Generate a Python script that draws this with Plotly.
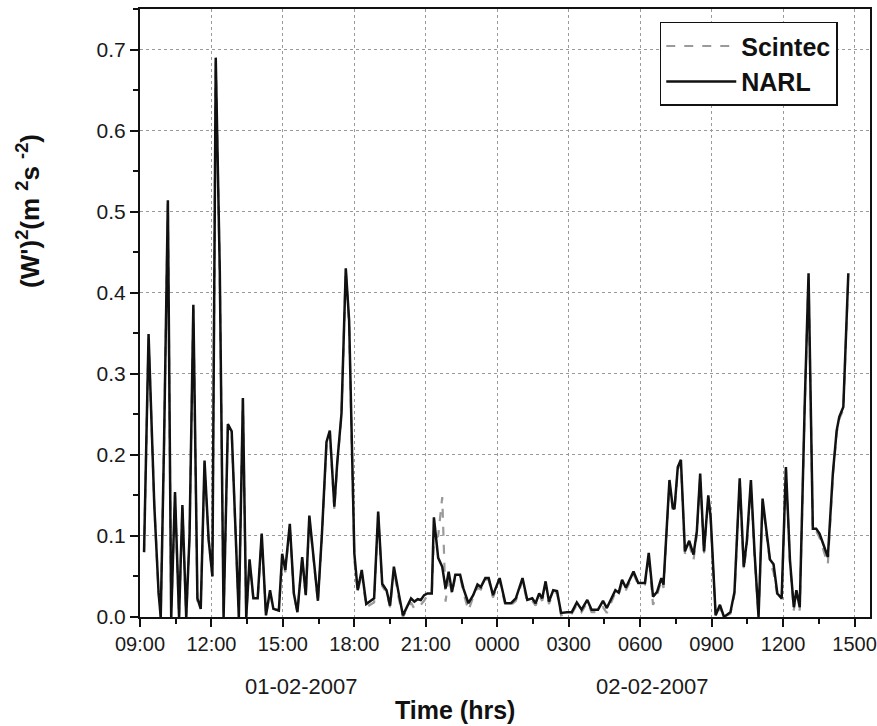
import plotly.graph_objects as go

# Time in decimal hours since 00:00 of 01-02-2007
time_h = [9.17, 9.36, 9.60, 9.78, 9.87, 10.01, 10.17, 10.31, 10.47, 10.64, 10.78, 10.94, 11.08, 11.24, 11.41,
          11.55, 11.71, 11.88, 12.04, 12.18, 12.35, 12.51, 12.69, 12.85, 13.15, 13.32, 13.46, 13.60, 13.76, 13.94,
          14.11, 14.29, 14.46, 14.60, 14.83, 14.97, 15.10, 15.29, 15.46, 15.61, 15.81, 15.96, 16.11, 16.28, 16.47,
          16.64, 16.83, 16.97, 17.16, 17.28, 17.46, 17.64, 17.78, 18.00, 18.14, 18.31, 18.50, 18.83, 19.00, 19.17,
          19.35, 19.50, 19.66, 19.85, 20.04, 20.38, 20.52, 20.66, 20.79, 20.93, 21.07, 21.25, 21.34, 21.52, 21.69,
          21.83, 21.96, 22.10, 22.24, 22.44, 22.58, 22.79, 22.99, 23.17, 23.31, 23.50, 23.64, 23.82, 24.10, 24.34,
          24.58, 24.78, 25.06, 25.26, 25.47, 25.61, 25.76, 25.89, 26.03, 26.17, 26.35, 26.51, 26.68, 26.93, 27.13,
          27.34, 27.54, 27.78, 27.96, 28.23, 28.44, 28.60, 28.78, 28.96, 29.10, 29.24, 29.40, 29.54, 29.72, 29.92,
          30.20, 30.36, 30.54, 30.71, 30.89, 30.98, 31.23, 31.37, 31.44, 31.58, 31.71, 31.88, 32.06, 32.24, 32.38,
          32.52, 32.68, 32.86, 32.96, 33.17, 33.35, 33.52, 33.79, 33.96, 34.18, 34.35, 34.48, 34.65, 34.80, 34.97,
          35.14, 35.32, 35.45, 35.60, 35.76, 35.94, 36.12, 36.29, 36.45, 36.56, 36.70, 36.91, 37.07, 37.25, 37.39,
          37.53, 37.88, 38.09, 38.25, 38.36, 38.53, 38.74]

narl = [0.080, 0.349, 0.138, 0.030, 0.000, 0.215, 0.514, 0.000, 0.154, 0.000, 0.138, 0.000, 0.100, 0.385, 0.023,
        0.010, 0.193, 0.096, 0.050, 0.690, 0.427, 0.000, 0.238, 0.229, 0.000, 0.270, 0.000, 0.071, 0.023, 0.023,
        0.103, 0.002, 0.033, 0.010, 0.008, 0.078, 0.058, 0.115, 0.029, 0.006, 0.074, 0.027, 0.125, 0.078, 0.020,
        0.103, 0.216, 0.230, 0.136, 0.190, 0.251, 0.430, 0.366, 0.078, 0.033, 0.058, 0.016, 0.023, 0.130, 0.041,
        0.033, 0.014, 0.062, 0.031, 0.002, 0.023, 0.019, 0.022, 0.021, 0.027, 0.029, 0.029, 0.123, 0.073, 0.062,
        0.035, 0.056, 0.031, 0.052, 0.052, 0.035, 0.017, 0.027, 0.040, 0.037, 0.048, 0.048, 0.027, 0.048, 0.017,
        0.017, 0.023, 0.048, 0.021, 0.023, 0.017, 0.029, 0.023, 0.044, 0.019, 0.033, 0.032, 0.005, 0.006, 0.006,
        0.018, 0.009, 0.021, 0.009, 0.009, 0.020, 0.011, 0.023, 0.033, 0.030, 0.046, 0.036, 0.044, 0.056, 0.042,
        0.042, 0.079, 0.025, 0.031, 0.048, 0.040, 0.169, 0.135, 0.133, 0.185, 0.194, 0.081, 0.094, 0.077, 0.106,
        0.177, 0.081, 0.150, 0.123, 0.002, 0.015, 0.000, 0.006, 0.031, 0.171, 0.062, 0.094, 0.169, 0.081, 0.000,
        0.146, 0.102, 0.071, 0.065, 0.029, 0.023, 0.185, 0.070, 0.012, 0.033, 0.012, 0.263, 0.424, 0.109, 0.109,
        0.103, 0.074, 0.177, 0.230, 0.247, 0.259, 0.424]

scintec = [0.080, 0.345, 0.138, 0.030, 0.000, 0.215, 0.510, 0.000, 0.150, 0.000, 0.135, 0.000, 0.100, 0.380, 0.020,
           0.010, 0.190, 0.096, 0.050, 0.685, 0.425, 0.000, 0.235, 0.226, 0.000, 0.268, 0.000, 0.070, 0.022, 0.022,
           0.100, 0.002, 0.030, 0.010, 0.008, 0.075, 0.055, 0.112, 0.027, 0.006, 0.072, 0.025, 0.122, 0.075, 0.018,
           0.100, 0.214, 0.228, 0.133, 0.188, 0.249, 0.428, 0.362, 0.070, 0.030, 0.055, 0.012, 0.018, 0.126, 0.038,
           0.030, 0.012, 0.058, 0.025, 0.000, 0.018, 0.010, 0.012, 0.015, 0.020, 0.027, 0.030, 0.095, 0.100, 0.148,
           0.019, 0.050, 0.028, 0.050, 0.050, 0.030, 0.008, 0.025, 0.036, 0.034, 0.046, 0.046, 0.024, 0.045, 0.014,
           0.015, 0.020, 0.045, 0.018, 0.020, 0.014, 0.026, 0.020, 0.040, 0.016, 0.030, 0.030, 0.002, 0.004, 0.004,
           0.015, 0.006, 0.018, 0.006, 0.006, 0.012, 0.005, 0.018, 0.030, 0.027, 0.042, 0.033, 0.041, 0.053, 0.040,
           0.040, 0.075, 0.015, 0.027, 0.045, 0.036, 0.165, 0.132, 0.130, 0.182, 0.190, 0.078, 0.090, 0.070, 0.102,
           0.174, 0.078, 0.146, 0.120, 0.000, 0.012, 0.000, 0.004, 0.028, 0.168, 0.058, 0.090, 0.165, 0.075, 0.000,
           0.142, 0.098, 0.068, 0.055, 0.026, 0.020, 0.182, 0.066, 0.008, 0.030, 0.008, 0.260, 0.420, 0.106, 0.106,
           0.098, 0.065, 0.174, 0.227, 0.244, 0.256, 0.420]

x_tick_vals = [9, 12, 15, 18, 21, 24, 27, 30, 33, 36, 39]
x_tick_text = ["09:00", "12:00", "15:00", "18:00", "21:00", "0000", "0300", "0600", "0900", "1200", "1500"]
y_tick_vals = [0.0, 0.1, 0.2, 0.3, 0.4, 0.5, 0.6, 0.7]
y_tick_text = ["0.0", "0.1", "0.2", "0.3", "0.4", "0.5", "0.6", "0.7"]
date_labels = ["01-02-2007", "02-02-2007"]
date_label_pos = [15.80, 30.50]

FONT = "Liberation Sans, Arial, sans-serif"

fig = go.Figure()
fig.add_trace(go.Scatter(x=time_h, y=scintec, mode="lines", name="Scintec",
                         line=dict(color="#9a9a9a", width=2.2, dash="dash")))
fig.add_trace(go.Scatter(x=time_h, y=narl, mode="lines", name="NARL",
                         line=dict(color="#111111", width=2.5)))

for lbl, pos in zip(date_labels, date_label_pos):
    fig.add_annotation(x=pos, xref="x", y=-0.115, yref="paper", text=lbl, showarrow=False,
                       font=dict(family=FONT, size=22, color="#1a1a1a"), xanchor="center", yanchor="middle")

fig.add_annotation(x=22.23, xref="x", y=-0.153, yref="paper", text="<b>Time (hrs)</b>", showarrow=False,
                   font=dict(family=FONT, size=25, color="#111111"), xanchor="center", yanchor="middle")

fig.add_annotation(x=-0.152, xref="paper", y=0.668, yref="paper",
                   text="<b>(W')<sup>2</sup>(m <sup>2</sup>s <sup>-2</sup>)</b>", showarrow=False, textangle=-90,
                   font=dict(family=FONT, size=26, color="#111111"), xanchor="center", yanchor="middle")

fig.update_layout(
    width=877, height=726,
    margin=dict(l=140, r=7, t=9, b=109, autoexpand=False),
    paper_bgcolor="white", plot_bgcolor="white",
    font=dict(family=FONT, size=21, color="#1a1a1a"),
    showlegend=True,
    legend=dict(x=0.712, y=0.979, xanchor="left", yanchor="top",
                bgcolor="white", bordercolor="#111111", borderwidth=1.5,
                font=dict(family=FONT, size=25, color="#111111", weight="bold"),
                itemwidth=70, tracegroupgap=0),
)

fig.update_xaxes(
    range=[9, 39.65], tickmode="array", tickvals=x_tick_vals, ticktext=x_tick_text,
    ticks="outside", ticklen=8, tickwidth=1.5, tickcolor="#111111",
    ticklabeloverflow="allow", automargin=False,
    showline=True, linecolor="#111111", linewidth=2, mirror=True,
    showgrid=True, gridcolor="#9a9a9a", griddash="dot", gridwidth=1,
    zeroline=False, tickfont=dict(family=FONT, size=20, color="#1a1a1a"),
    minor=dict(tickmode="linear", tick0=9, dtick=1.5, ticks="outside", ticklen=5,
               tickwidth=1.5, tickcolor="#111111", showgrid=False),
)
fig.update_yaxes(
    range=[0, 0.75], tickmode="array", tickvals=y_tick_vals, ticktext=y_tick_text,
    ticks="outside", ticklen=8, tickwidth=1.5, tickcolor="#111111",
    automargin=False,
    showline=True, linecolor="#111111", linewidth=2, mirror=True,
    showgrid=True, gridcolor="#9a9a9a", griddash="dot", gridwidth=1,
    zeroline=False, tickfont=dict(family=FONT, size=21, color="#1a1a1a"),
    minor=dict(tickmode="linear", tick0=0, dtick=0.05, ticks="outside", ticklen=5,
               tickwidth=1.5, tickcolor="#111111", showgrid=False),
)

fig.write_html("out.html")
